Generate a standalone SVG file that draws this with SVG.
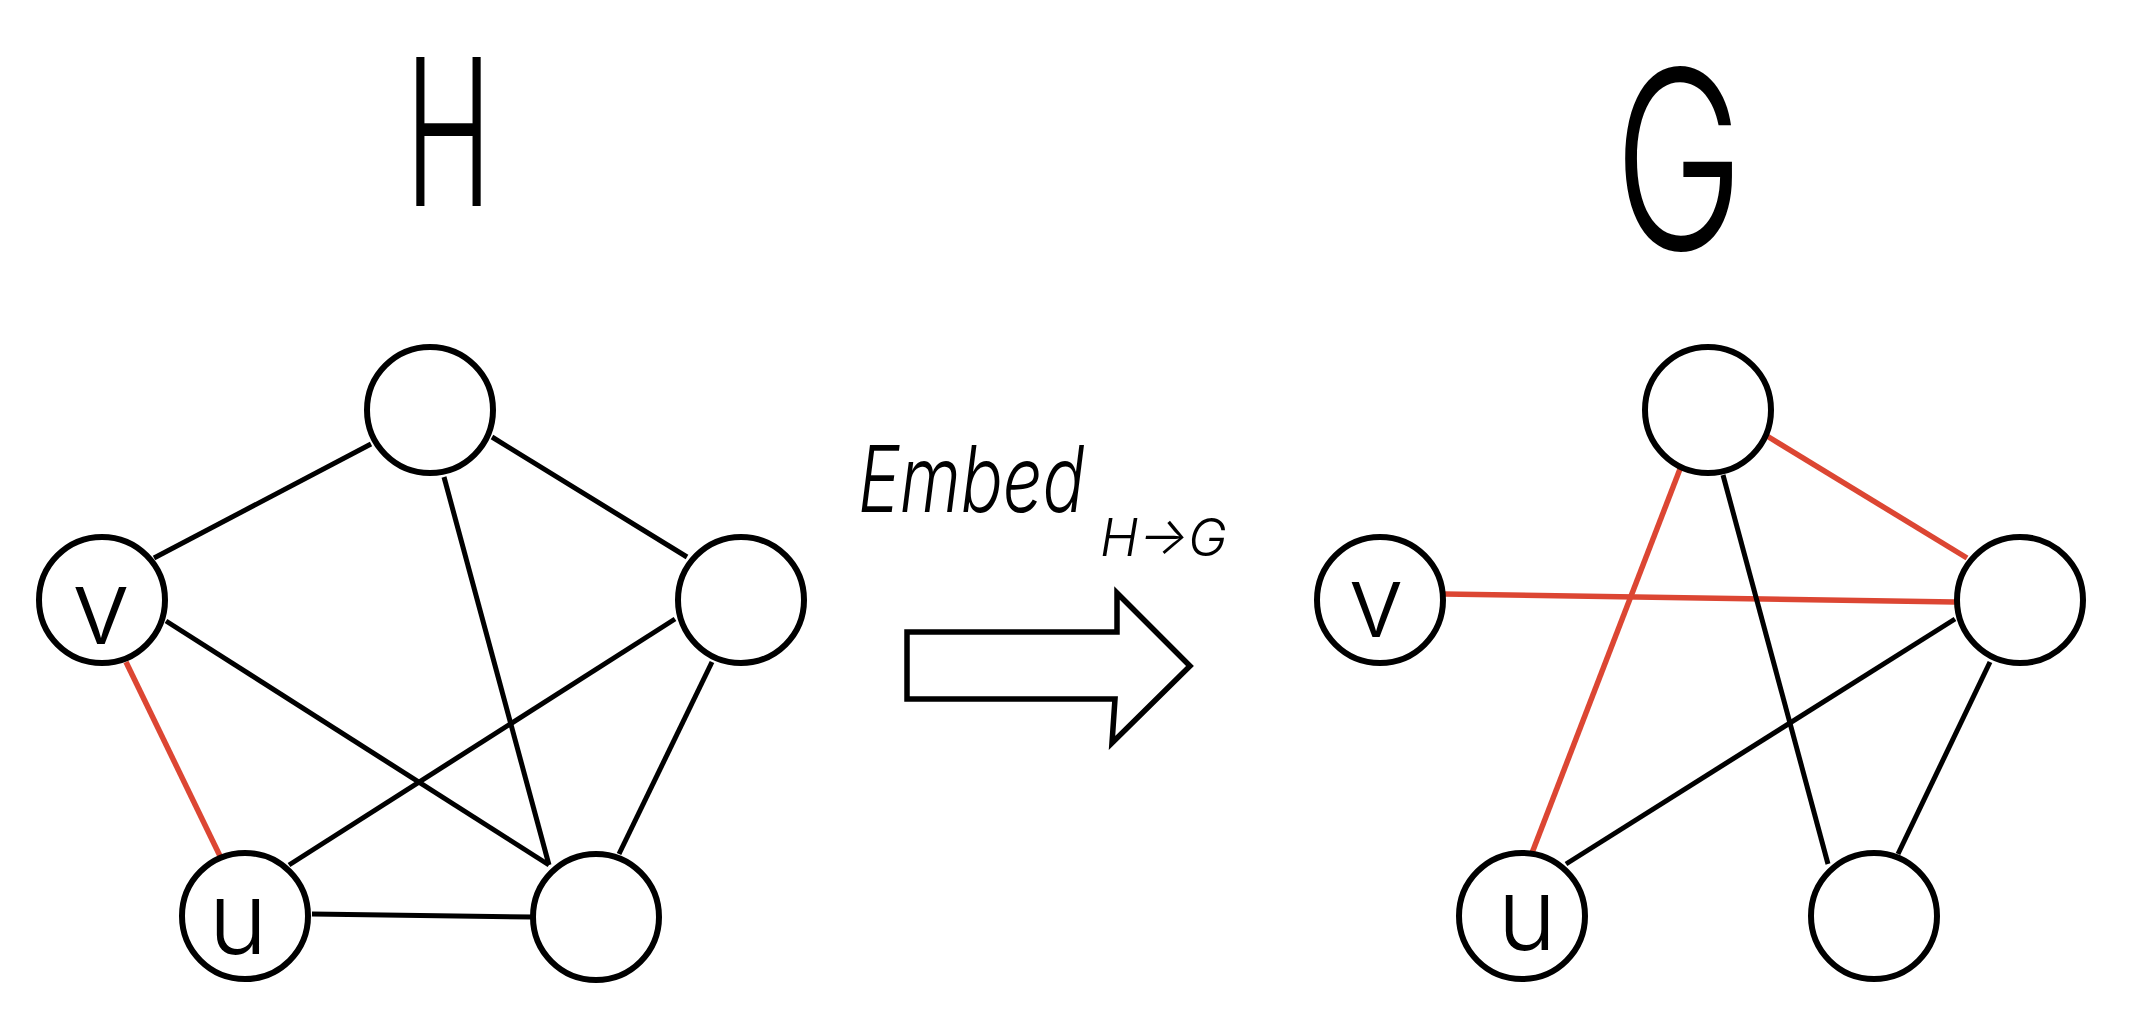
<svg xmlns="http://www.w3.org/2000/svg" width="2130" height="1027" viewBox="0 0 2130 1027">
<style>
.node{fill:#fff;stroke:#000;stroke-width:6}
.e{stroke:#000;stroke-width:5;stroke-linecap:butt;fill:none}
.r{stroke:#dc4633;stroke-width:5.5;fill:none}
.lbl{font-family:Inter,"Liberation Sans",sans-serif;font-weight:300;fill:#000}
</style>
<rect width="2130" height="1027" fill="#fff"/>
<g id="connectors">
<line class="e" x1="154" y1="558" x2="371" y2="444"/>
<line class="e" x1="492" y1="437" x2="687" y2="557"/>
<line class="e" x1="444" y1="477" x2="549" y2="865"/>
<line class="e" x1="166" y1="621" x2="549" y2="865"/>
<line class="e" x1="675" y1="619" x2="289" y2="865"/>
<line class="e" x1="712" y1="662" x2="619" y2="854"/>
<line class="e" x1="312" y1="914" x2="533" y2="917"/>
<line class="r" x1="126" y1="662" x2="220" y2="856"/>
<line class="r" x1="1767" y1="436" x2="1967" y2="558"/>
<line class="r" x1="1444" y1="594" x2="1955" y2="602"/>
<line class="r" x1="1680" y1="469" x2="1532" y2="853"/>
<line class="e" x1="1723" y1="475" x2="1828" y2="864"/>
<line class="e" x1="1955" y1="619" x2="1566" y2="864"/>
<line class="e" x1="1990" y1="662" x2="1898" y2="854"/>
</g>
<g id="H-top"><circle class="node" cx="430" cy="410" r="63"/></g>
<g id="H-v"><circle class="node" cx="102" cy="600" r="63"/><text class="lbl" x="101" y="644" font-size="105" text-anchor="middle">v</text></g>
<g id="H-right"><circle class="node" cx="741" cy="600" r="63"/></g>
<g id="H-u"><circle class="node" cx="245" cy="916" r="63"/><text class="lbl" x="238" y="954" font-size="100" text-anchor="middle">u</text></g>
<g id="H-br"><circle class="node" cx="596" cy="917" r="63"/></g>
<g id="G-top"><circle class="node" cx="1708" cy="410" r="63"/></g>
<g id="G-v"><circle class="node" cx="1380" cy="600" r="63"/><text class="lbl" x="1376" y="637" font-size="100" text-anchor="middle">v</text></g>
<g id="G-right"><circle class="node" cx="2020" cy="600" r="63"/></g>
<g id="G-u"><circle class="node" cx="1522" cy="916" r="63"/><text class="lbl" x="1527" y="950" font-size="100" text-anchor="middle">u</text></g>
<g id="G-br"><circle class="node" cx="1874" cy="916" r="63"/></g>
<g id="titles">
<text class="lbl" x="405" y="206" font-size="205" textLength="87" lengthAdjust="spacingAndGlyphs">H</text>
<text class="lbl" x="1614" y="250" font-size="250" font-weight="200" textLength="130" lengthAdjust="spacingAndGlyphs">G</text>
</g>
<g id="embed">
<text class="lbl" transform="translate(858,512) scale(0.76,1)" x="0" y="0" font-size="92" font-style="italic">Embed</text>
<text class="lbl" x="1100" y="556" font-size="52" font-style="italic">H-&gt;G</text>
<polygon points="907,632 1117,632 1117,593 1190,666 1112,743 1115,699 907,699" fill="#fff" stroke="#000" stroke-width="5.5" stroke-linejoin="miter"/>
</g>
</svg>
